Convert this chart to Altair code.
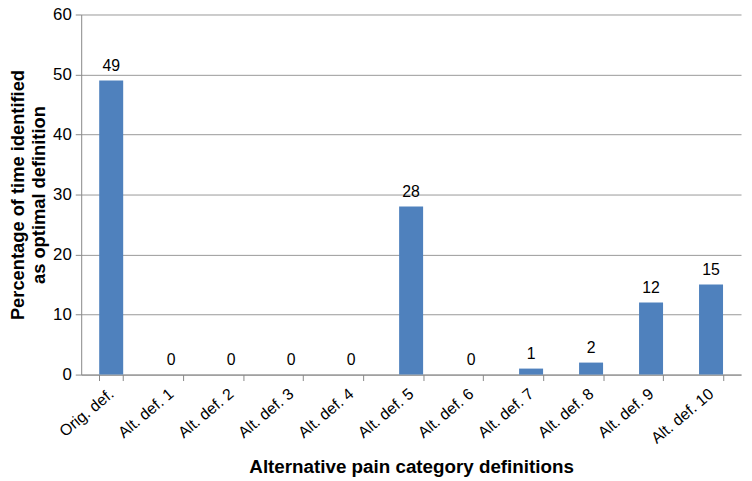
import altair as alt
import pandas as pd

categories = ["Orig. def.", "Alt. def. 1", "Alt. def. 2", "Alt. def. 3", "Alt. def. 4",
              "Alt. def. 5", "Alt. def. 6", "Alt. def. 7", "Alt. def. 8", "Alt. def. 9", "Alt. def. 10"]
values = [49, 0, 0, 0, 0, 28, 0, 1, 2, 12, 15]

df = pd.DataFrame({"cat": categories, "val": values})

FONT = "Liberation Sans"

x = alt.X("cat:N", sort=categories, title="Alternative pain category definitions",
          scale=alt.Scale(paddingInner=0.6, paddingOuter=0.3),
          axis=alt.Axis(tickBand="extent", labelOverlap=False))
y = alt.Y("val:Q", title=["Percentage of time identified", "as optimal definition"],
          scale=alt.Scale(domain=[0, 60], nice=False),
          axis=alt.Axis(values=[0, 10, 20, 30, 40, 50, 60]))

bars = alt.Chart(df).mark_bar(color="#4F81BD").encode(x=x, y=y)
text = alt.Chart(df).mark_text(dy=-15, fontSize=16, font=FONT, color="#000").encode(
    x=x, y=y, text="val:Q")

chart = (bars + text).properties(
    width=667, height=364,
    autosize=alt.AutoSizeParams(type="none"),
    padding={"left": 74, "top": 4, "right": 3, "bottom": 105},
).configure_view(stroke=None).configure_axis(
    titleFontWeight="bold", titleFont=FONT, labelFont=FONT, titleColor="#000", labelColor="#000",
    tickColor="#888", domainColor="#888", tickSize=6,
).configure_axisX(
    labelAngle=-40, labelAlign="right", labelBaseline="middle", labelFontSize=16,
    titleFontSize=19, titlePadding=12, labelPadding=11, labelLimit=300,
).configure_axisY(
    labelFontSize=17, titleFontSize=18.5, titleLineHeight=21, titlePadding=4,
    gridColor="#999", labelPadding=4,
)

chart.save("out.html", embed_options={"renderer": "svg", "actions": False})
